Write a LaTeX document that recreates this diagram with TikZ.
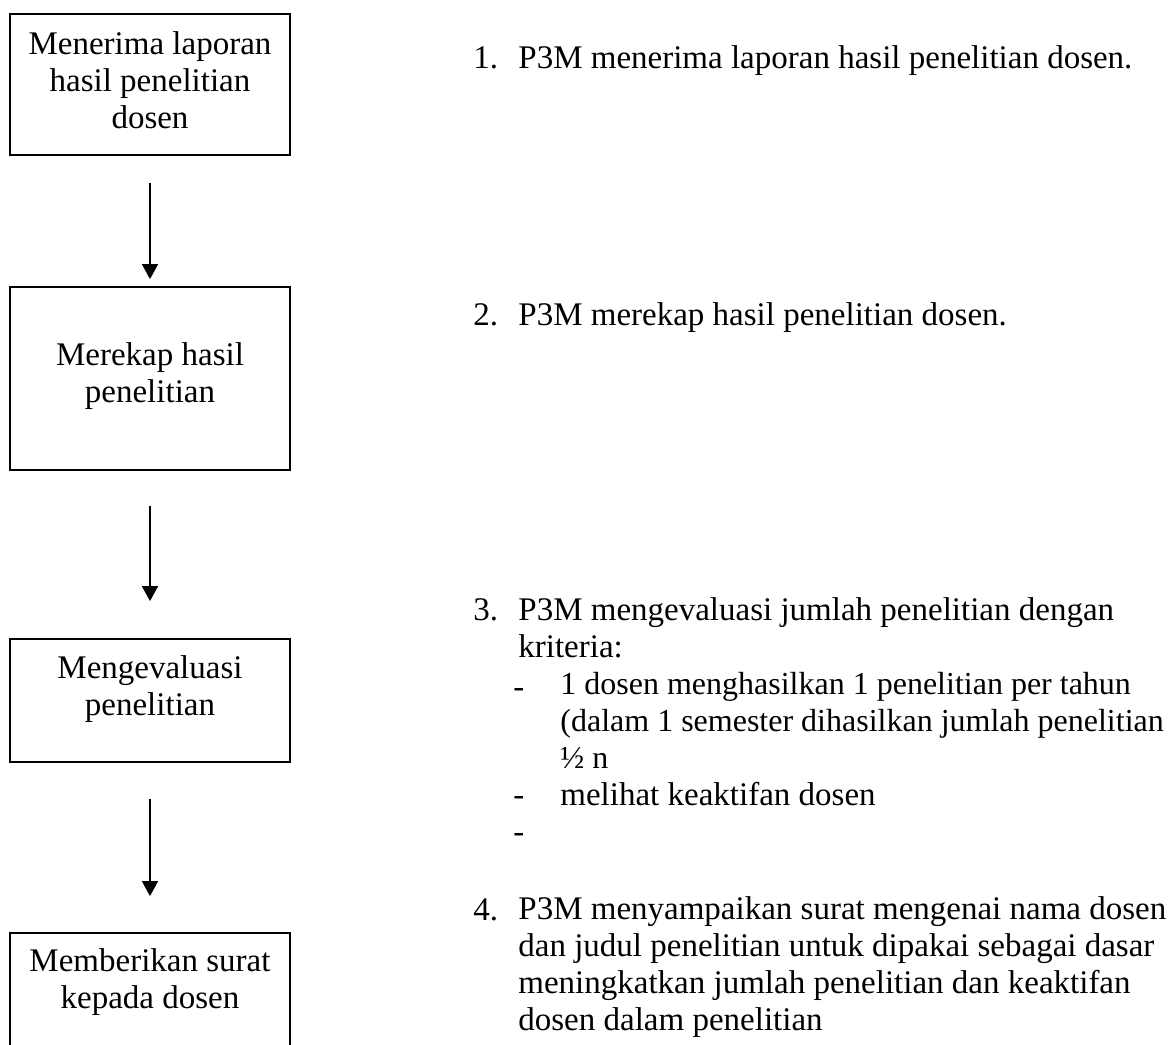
\documentclass[tikz,border=0pt]{standalone}
\usepackage{fontspec}
\setmainfont{Liberation Serif}
\usetikzlibrary{arrows.meta}

\tikzset{
  box/.style={draw, line width=0.9pt, minimum width=140pt, inner sep=0pt},
  flow/.style={-{Triangle[width=8pt,length=7.5pt]}, line width=0.8pt},
  txt/.style={font=\fontsize{16.5}{18.5}\selectfont, inner sep=0pt}
}

\begin{document}
\begin{tikzpicture}[x=0.5pt,y=-0.5pt]

        \useasboundingbox (0,0) rectangle (1169,1045);
        \clip (0,0) rectangle (1169,1045);

        \begin{scope}[every node/.style={box}]
          \node[minimum height=70.5pt] (b1) at (150,84.5) {};
          \node[minimum height=91.5pt] (b2) at (150,378.5) {};
          \node[minimum height=61.5pt] (b3) at (150,700.5) {};
          \node[minimum height=83.5pt] (b4) at (150,1016.5) {};
        \end{scope}

        \begin{scope}[every node/.style={txt, align=center, anchor=base}]
          \node (t1) at (150,128) {Menerima laporan\\hasil penelitian\\dosen};
          \node (t2) at (150,402) {Merekap hasil\\penelitian};
          \node (t3) at (150,715) {Mengevaluasi\\penelitian};
          \node (t4) at (150,1008) {Memberikan surat\\kepada dosen};
        \end{scope}

        \begin{scope}[every node/.style={txt, align=left, anchor=base west}]
          \node (n1) at (473,68)  {1.};
          \node (n2) at (473,325) {2.};
          \node (n3) at (473,620) {3.};
          \node (n4) at (473,920) {4.};
          \node (s1) at (518,68)  {P3M menerima laporan hasil penelitian dosen.};
          \node (s2) at (518,325) {P3M merekap hasil penelitian dosen.};
          \node (s3) at (518,657) {P3M mengevaluasi jumlah penelitian dengan\\kriteria:};
          \node (s4) at (518,1030) {P3M menyampaikan surat mengenai nama dosen\\dan judul penelitian untuk dipakai sebagai dasar\\meningkatkan jumlah penelitian dan keaktifan\\dosen dalam penelitian};
          \node (d1) at (513,697) {-};
          \node (d2) at (513,805) {-};
          \node (d3) at (513,842) {-};
          \node[font=\fontsize{16}{18.5}\selectfont] (k1) at (560,768) {1 dosen menghasilkan 1 penelitian per tahun\\(dalam 1 semester dihasilkan jumlah penelitian\\½ n};
          \node (k2) at (560,805) {melihat keaktifan dosen};
        \end{scope}

        \draw[flow, shorten <=13.5pt, shorten >=3.5pt] (b1) -- (b2);
        \draw[flow, shorten <=17.5pt, shorten >=18.5pt] (b2) -- (b3);
        \draw[flow, shorten <=18pt, shorten >=18pt] (b3) -- (b4);

\end{tikzpicture}
\end{document}
